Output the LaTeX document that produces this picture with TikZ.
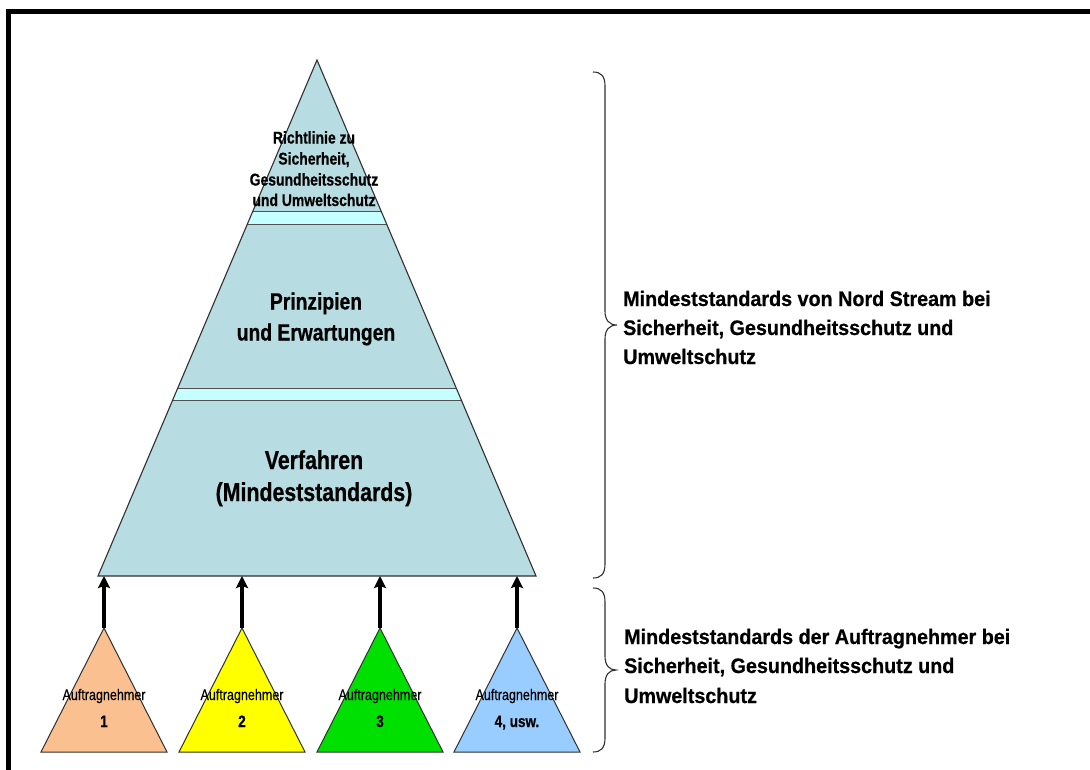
\documentclass[tikz,border=0pt]{standalone}
\usepackage{fontspec}
\setmainfont{Liberation Sans}
\newfontfamily\cnd[FakeStretch=0.82,BoldFeatures={FakeBold=0.6},UprightFeatures={FakeBold=0.3}]{Liberation Sans}
\newfontfamily\cndw[FakeStretch=0.94,BoldFeatures={FakeBold=0.6}]{Liberation Sans}
\usetikzlibrary{arrows.meta}
\definecolor{pyr}{HTML}{B7DDE2}
\definecolor{band}{HTML}{C5FFFF}
\definecolor{peach}{HTML}{FAC090}
\definecolor{yel}{HTML}{FFFF00}
\definecolor{grn}{HTML}{00E000}
\definecolor{lblue}{HTML}{99CCFF}
\definecolor{edge}{HTML}{303030}
\tikzset{
  frame/.style={line width=5pt, line join=miter, black},
  outline/.style={draw=edge, line width=1.1pt, line join=miter},
  bandline/.style={draw=edge!85, line width=1pt},
  brace/.style={draw=edge, line width=1.1pt},
  uparrow/.style={line width=3.2pt, black, -{Stealth[length=12pt,width=12pt,inset=2pt]}},
  txt/.style={inner sep=0pt, anchor=base, text=black},
  toptxt/.style={txt, font=\cnd\bfseries\fontsize{17}{20}\selectfont},
  midtxt/.style={txt, font=\cnd\bfseries\fontsize{23.5}{27}\selectfont},
  lowtxt/.style={txt, font=\cnd\bfseries\fontsize{26}{30}\selectfont},
  sidetxt/.style={txt, anchor=base west, font=\cndw\bfseries\fontsize{21}{25}\selectfont},
  ctxt/.style={txt, font=\cnd\fontsize{15.3}{18}\selectfont},
  ntxt/.style={txt, font=\cnd\bfseries\fontsize{16.5}{19}\selectfont},
}
\begin{document}
\begin{tikzpicture}[x=1pt,y=-1pt]
\useasboundingbox (0,0) rectangle (1090,769);
% frame
\draw[frame] (8.5,772) -- (8.5,11.5) -- (1093,11.5);
% main pyramid
\coordinate (A) at (317,60);
\coordinate (BL) at (98,576);
\coordinate (BR) at (536,576);
\fill[pyr] (A) -- (BL) -- (BR) -- cycle;
\begin{scope}
  \clip (A) -- (BL) -- (BR) -- cycle;
  \fill[band] (0,211) rectangle (1090,224);
  \fill[band] (0,388) rectangle (1090,400);
  \draw[bandline] (0,211) -- (1090,211);
  \draw[bandline] (0,224) -- (1090,224);
  \draw[bandline] (0,388) -- (1090,388);
  \draw[bandline] (0,400) -- (1090,400);
\end{scope}
\draw[outline] (A) -- (BL) -- (BR) -- cycle;
% pyramid texts
\node[toptxt] (r1) at (314,143.5) {Richtlinie zu};
\node[toptxt] (r2) at (314,164.5) {Sicherheit,};
\node[toptxt] (r3) at (314,185.5) {Gesundheitsschutz};
\node[toptxt] (r4) at (314,206) {und Umweltschutz};
\node[midtxt] (p1t) at (316,309.5) {Prinzipien};
\node[midtxt] (p2t) at (316,340.5) {und Erwartungen};
\node[lowtxt] (v1) at (314,469) {Verfahren};
\node[lowtxt] (v2) at (314,501) {(Mindeststandards)};
% small triangles
\foreach \i/\x/\c in {1/104/peach, 2/242/yel, 3/380/grn, 4/517/lblue}{
  \coordinate (t\i) at (\x,628);
  \coordinate (b\i) at (\x,576);
  \filldraw[fill=\c, draw=edge, line width=1pt, line join=miter]
    (t\i) -- ++(-63,124) -- ++(126,0) -- cycle;
  \node[ctxt] (a\i) at (\x,700) {Auftragnehmer};
}
\node[ntxt] (n1) at (104,727) {1};
\node[ntxt] (n2) at (242,727) {2};
\node[ntxt] (n3) at (380,727) {3};
\node[ntxt] (n4) at (517,727) {4, usw.};
% arrows
\foreach \i in {1,2,3,4}{
  \draw[uparrow] (t\i) -- (b\i);
}
% braces
\draw[brace] (593,72) .. controls (601,72) and (605,76) .. (605,86) -- (605,311)
  .. controls (605,320) and (609,325) .. (617,325)
  .. controls (609,325) and (605,330) .. (605,339) -- (605,564)
  .. controls (605,574) and (601,578) .. (593,578);
\draw[brace] (593,588) .. controls (601,588) and (605,592) .. (605,602) -- (605,656)
  .. controls (605,665) and (609,670) .. (616,670)
  .. controls (609,670) and (605,675) .. (605,684) -- (605,738)
  .. controls (605,748) and (601,752) .. (593,752);
% side texts
\node[sidetxt] (s1) at (623,306) {Mindeststandards von Nord Stream bei};
\node[sidetxt] (s2) at (623,335) {Sicherheit, Gesundheitsschutz und};
\node[sidetxt] (s3) at (623,364) {Umweltschutz};
\node[sidetxt] (s4) at (624,644) {Mindeststandards der Auftragnehmer bei};
\node[sidetxt] (s5) at (624,673) {Sicherheit, Gesundheitsschutz und};
\node[sidetxt] (s6) at (624,703) {Umweltschutz};
\end{tikzpicture}
\end{document}
